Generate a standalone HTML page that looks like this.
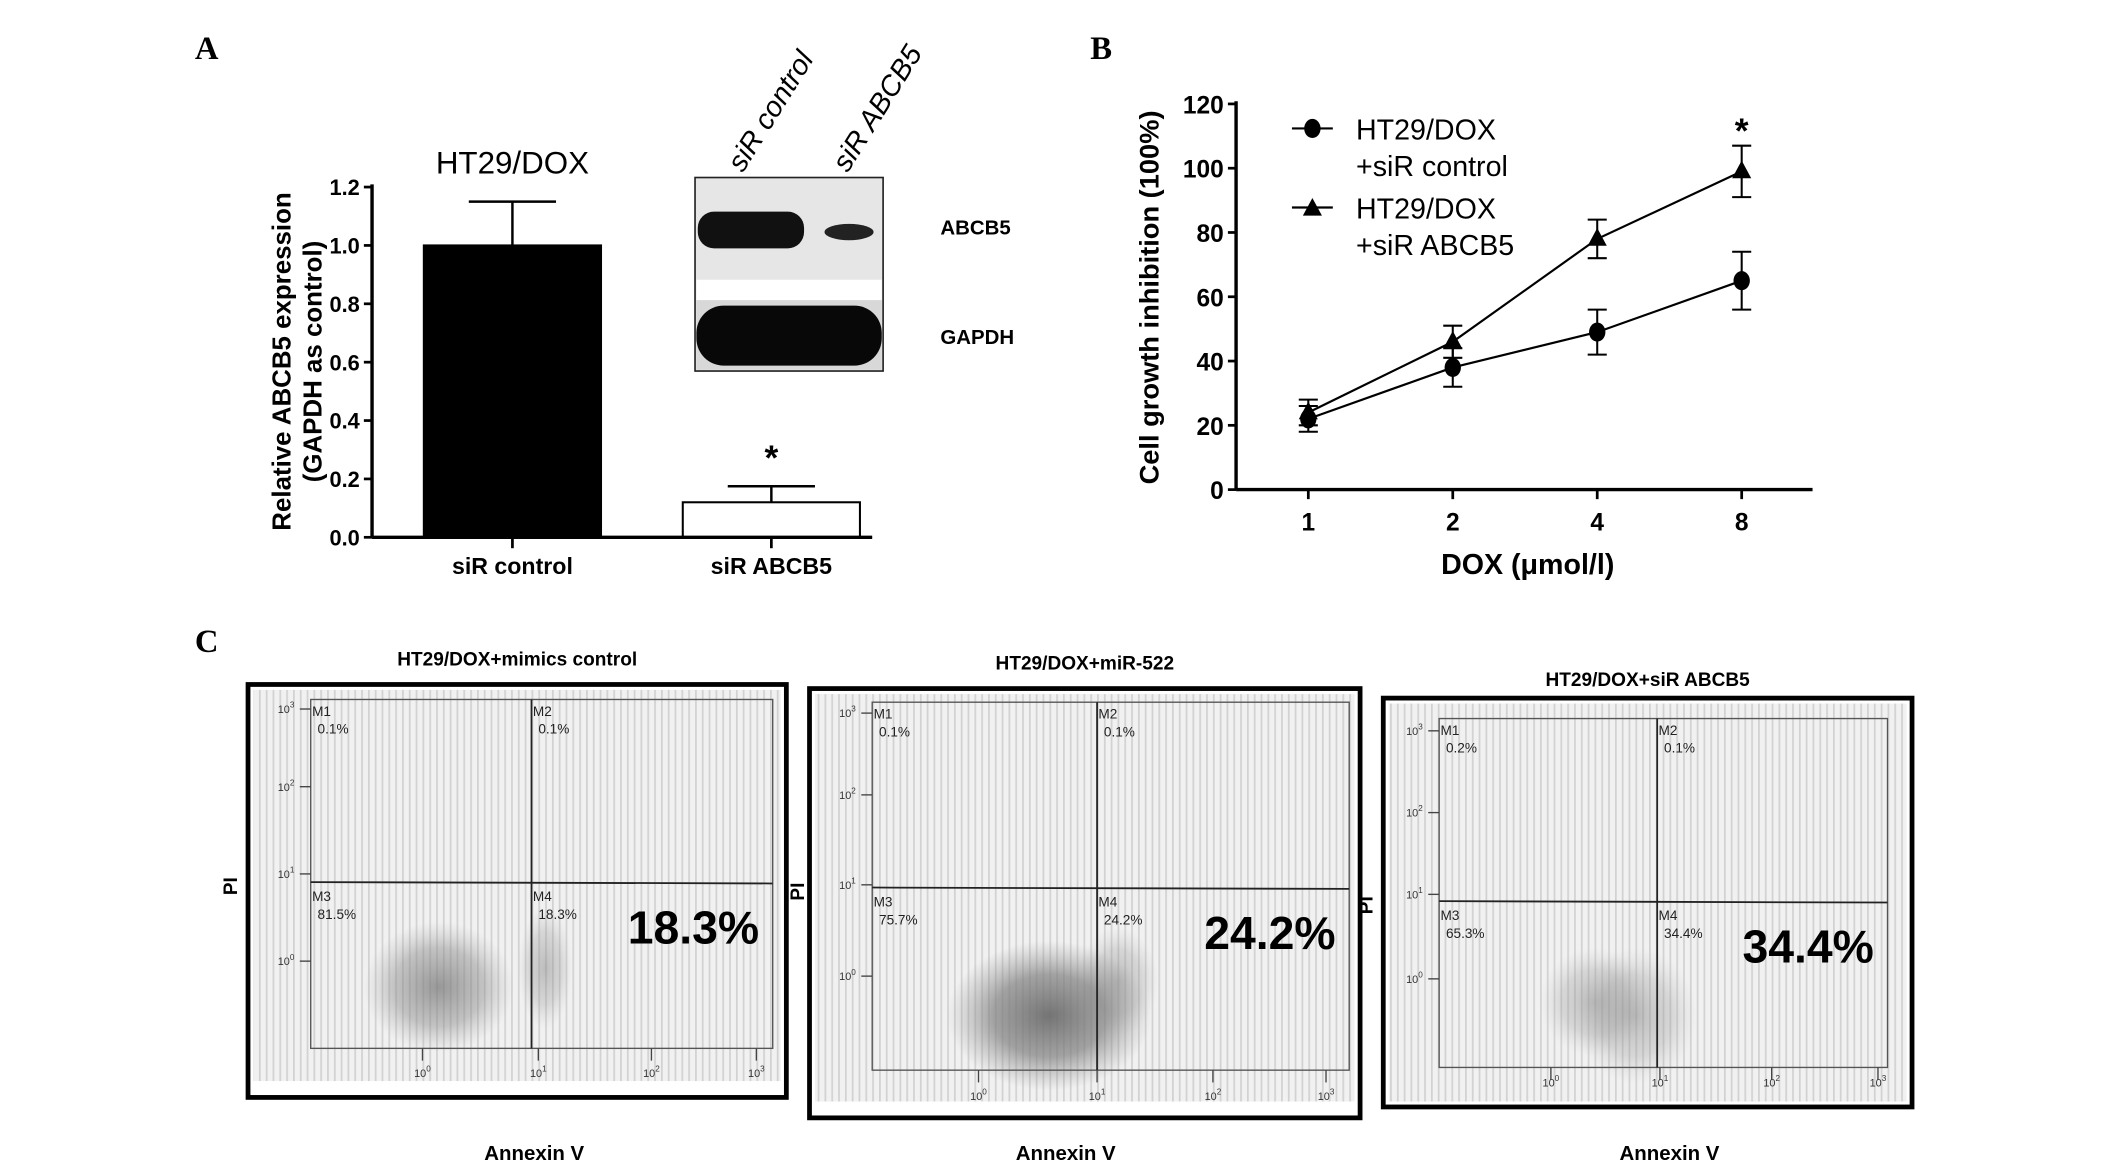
<!DOCTYPE html>
<html><head><meta charset="utf-8">
<style>
html,body{margin:0;padding:0;background:#fff;}
svg{display:block;}
text{font-family:"Liberation Sans",sans-serif;}
.serif{font-family:"Liberation Serif",serif;font-weight:bold;}
</style></head>
<body>
<svg id="fig" width="2126" height="1170" viewBox="0 0 1560 858" xmlns="http://www.w3.org/2000/svg">
<defs>
<pattern id="stripes" width="5" height="10" patternUnits="userSpaceOnUse">
<rect width="5" height="10" fill="#f1f1f1"/>
<rect x="0" width="1.3" height="10" fill="#d2d2d2"/>
</pattern>
<radialGradient id="cloudDense"><stop offset="0" stop-color="#6e6e6e" stop-opacity="0.95"/><stop offset="0.55" stop-color="#808080" stop-opacity="0.7"/><stop offset="1" stop-color="#999" stop-opacity="0"/></radialGradient>
<radialGradient id="cloudMed"><stop offset="0" stop-color="#7a7a7a" stop-opacity="0.75"/><stop offset="0.6" stop-color="#8a8a8a" stop-opacity="0.45"/><stop offset="1" stop-color="#aaa" stop-opacity="0"/></radialGradient>
<radialGradient id="cloudLight"><stop offset="0" stop-color="#888" stop-opacity="0.5"/><stop offset="0.6" stop-color="#999" stop-opacity="0.3"/><stop offset="1" stop-color="#bbb" stop-opacity="0"/></radialGradient>
</defs>
<text class="serif" x="143" y="43" font-size="24">A</text>
<text class="serif" x="800" y="43" font-size="24">B</text>
<text class="serif" x="143" y="478" font-size="24">C</text>
<g id="chartA"></g>
<g id="chartB"></g>
<g id="flow"></g>
</svg>
<script>
const NS="http://www.w3.org/2000/svg";
function mk(parent,tag,attrs,txt){const e=document.createElementNS(NS,tag);for(const k in attrs)e.setAttribute(k,attrs[k]);if(txt!==undefined)e.textContent=txt;parent.appendChild(e);return e;}

// ---------- Chart A data ----------
const barCategories=["siR control","siR ABCB5"];
const barValues=[1.0,0.12];
const barErrors=[0.15,0.055];
const barTicks=[0,0.2,0.4,0.6,0.8,1.0,1.2];

(function(){
const g=document.getElementById('chartA');
const x0=273,x1=640,y0=394,yTop=137,vmax=1.2;
const y=v=>y0-(v/vmax)*(y0-yTop);
const cx=i=>376+i*190;
const bw=130;
barCategories.forEach((c,i)=>{
  const bx=cx(i)-bw/2;
  const r=mk(g,'rect',{x:bx,y:y(barValues[i]),width:bw,height:y0-y(barValues[i]),fill:i===0?'#000':'#fff',stroke:'#000','stroke-width':1.5});
  
  
  const top=y(barValues[i]+barErrors[i]);
  const el=mk(g,'path',{d:`M${cx(i)},${y(barValues[i])}V${top}M${cx(i)-32},${top}H${cx(i)+32}`,stroke:'#000','stroke-width':1.8,fill:'none'});
  
  
  mk(g,'line',{x1:cx(i),x2:cx(i),y1:y0,y2:y0+8,stroke:'#000','stroke-width':2});
  const t=mk(g,'text',{x:cx(i),y:y0+27,'font-size':17,'font-weight':'bold','text-anchor':'middle'},c);
  
  
});
const st=mk(g,'text',{x:cx(1),y:y(barValues[1]+barErrors[1])-12,'font-size':26,'font-weight':'bold','text-anchor':'middle'},'*');


mk(g,'line',{x1:x0,x2:x0,y1:yTop-2,y2:y0,stroke:'#000','stroke-width':2.5});
mk(g,'line',{x1:x0,x2:x1,y1:y0,y2:y0,stroke:'#000','stroke-width':2.5});
barTicks.forEach(v=>{
  mk(g,'line',{x1:x0-6,x2:x0,y1:y(v),y2:y(v),stroke:'#000','stroke-width':2});
  const t=mk(g,'text',{x:x0-9,y:y(v)+6,'font-size':16,'font-weight':'bold','text-anchor':'end'},v.toFixed(1));
  
  
});
const yt=mk(g,'text',{x:0,y:0,'font-size':19,'font-weight':'bold','text-anchor':'middle',transform:'translate(213,265) rotate(-90)'},'Relative ABCB5 expression');


const yt2=mk(g,'text',{x:0,y:0,'font-size':19,'font-weight':'bold','text-anchor':'middle',transform:'translate(236,265) rotate(-90)'},'(GAPDH as control)');


const ht=mk(g,'text',{x:376,y:127,'font-size':23,'text-anchor':'middle'},'HT29/DOX');


// western blot
const wb=mk(g,'g',{});


mk(wb,'rect',{x:510,y:130,width:138,height:142,fill:'#e6e6e6',stroke:'#222','stroke-width':1.2});
mk(wb,'rect',{x:511,y:205,width:136,height:15,fill:'#fff'});
mk(wb,'rect',{x:511,y:220,width:136,height:51,fill:'#d8d8d8'});
mk(wb,'rect',{x:512,y:155,width:78,height:27,rx:12,fill:'#111'});
mk(wb,'ellipse',{cx:623,cy:170,rx:18,ry:6,fill:'#222'});
mk(wb,'rect',{x:511,y:224,width:136,height:44,rx:20,fill:'#080808'});
const l1=mk(g,'text',{x:690,y:172,'font-size':15,'font-weight':'bold'},'ABCB5');


const l2=mk(g,'text',{x:690,y:252,'font-size':15,'font-weight':'bold'},'GAPDH');


const r1=mk(g,'text',{x:0,y:0,'font-size':21,'font-style':'italic',transform:'translate(545,127) rotate(-58)'},'siR control');


const r2=mk(g,'text',{x:0,y:0,'font-size':21,'font-style':'italic',transform:'translate(622,127) rotate(-58)'},'siR ABCB5');


})();

// ---------- Chart B data ----------
const doseLabels=["1","2","4","8"];
const controlMeans=[22,38,49,65];
const controlErr=[4,6,7,9];
const abcb5Means=[24,46,78,99];
const abcb5Err=[4,5,6,8];
const growthTicks=[0,20,40,60,80,100,120];

(function(){
const g=document.getElementById('chartB');
const x0=907,x1=1330,y0=359,yTop=76;
const y=v=>y0-v/120*(y0-yTop);
const x=i=>960+i*106;
mk(g,'line',{x1:x0,x2:x0,y1:yTop-2,y2:y0,stroke:'#000','stroke-width':2.5});
mk(g,'line',{x1:x0,x2:x1,y1:y0,y2:y0,stroke:'#000','stroke-width':2.5});
growthTicks.forEach(v=>{
  mk(g,'line',{x1:x0-6,x2:x0,y1:y(v),y2:y(v),stroke:'#000','stroke-width':2});
  const t=mk(g,'text',{x:x0-9,y:y(v)+7,'font-size':18,'font-weight':'bold','text-anchor':'end'},String(v));
  
  
});
doseLabels.forEach((d,i)=>{
  mk(g,'line',{x1:x(i),x2:x(i),y1:y0,y2:y0+7,stroke:'#000','stroke-width':2});
  const t=mk(g,'text',{x:x(i),y:y0+30,'font-size':18,'font-weight':'bold','text-anchor':'middle'},d);
  
  
});
function series(means,errs,marker,name){
  const sg=mk(g,'g',{});
  
  
  mk(sg,'polyline',{points:means.map((m,i)=>x(i)+','+y(m)).join(' '),fill:'none',stroke:'#000','stroke-width':1.6});
  means.forEach((m,i)=>{
    const t=y(m+errs[i]),b=y(m-errs[i]);
    mk(sg,'path',{d:`M${x(i)},${t}V${b}M${x(i)-7},${t}H${x(i)+7}M${x(i)-7},${b}H${x(i)+7}`,stroke:'#000','stroke-width':1.5,fill:'none'});
    if(marker==='c') mk(sg,'ellipse',{cx:x(i),cy:y(m),rx:6,ry:7,fill:'#000'});
    else mk(sg,'path',{d:`M${x(i)},${y(m)-8}L${x(i)+7},${y(m)+5}L${x(i)-7},${y(m)+5}Z`,fill:'#000'});
  });
}
series(controlMeans,controlErr,'c','series-sir-control');
series(abcb5Means,abcb5Err,'t','series-sir-abcb5');
const st=mk(g,'text',{x:x(3),y:y(abcb5Means[3]+abcb5Err[3])-2,'font-size':26,'font-weight':'bold','text-anchor':'middle'},'*');


const lg=mk(g,'g',{});


mk(lg,'line',{x1:948,x2:978,y1:94,y2:94,stroke:'#000','stroke-width':1.6});
mk(lg,'ellipse',{cx:963,cy:94,rx:6,ry:7,fill:'#000'});
mk(lg,'text',{x:995,y:102,'font-size':21},'HT29/DOX');
mk(lg,'text',{x:995,y:129,'font-size':21},'+siR control');
mk(lg,'line',{x1:948,x2:978,y1:152,y2:152,stroke:'#000','stroke-width':1.6});
mk(lg,'path',{d:'M963,145L970,158L956,158Z',fill:'#000'});
mk(lg,'text',{x:995,y:160,'font-size':21},'HT29/DOX');
mk(lg,'text',{x:995,y:187,'font-size':21},'+siR ABCB5');
const yt=mk(g,'text',{x:0,y:0,'font-size':20,'font-weight':'bold','text-anchor':'middle',transform:'translate(850,218) rotate(-90)'},'Cell growth inhibition (100%)');


const xt=mk(g,'text',{x:1121,y:421,'font-size':21,'font-weight':'bold','text-anchor':'middle'},'DOX (μmol/l)');


})();

// ---------- Flow panels ----------
const flowTitles=["HT29/DOX+mimics control","HT29/DOX+miR-522","HT29/DOX+siR ABCB5"];
const flowBig=["18.3%","24.2%","34.4%"];
const flowQuad=[["0.1%","0.1%","81.5%","18.3%"],["0.1%","0.1%","75.7%","24.2%"],["0.2%","0.1%","65.3%","34.4%"]];
(function(){
const root=document.getElementById('flow');
const P=[
 {fx:182,fy:502,fw:395,fh:303,ix0:228,ix1:567,iy0:513,iy1:769,qx:390,qy:647,ty:488,yt:[520,577,641,705],xt:[310,395,478,555],xty:790,cl:{cx:322,cy:724,rx:55,ry:48,f:'cloudMed'},cl2:{cx:400,cy:710,rx:20,ry:45,f:'cloudLight'},pi:174,annex:392},
 {fx:594,fy:505,fw:404,fh:315,ix0:640,ix1:990,iy0:515,iy1:785,qx:805,qy:651,ty:491,yt:[523,583,649,716],xt:[718,805,890,973],xty:807,cl:{cx:770,cy:745,rx:75,ry:55,f:'cloudDense'},cl2:{cx:820,cy:720,rx:30,ry:40,f:'cloudLight'},pi:590,annex:782},
 {fx:1015,fy:512,fw:388,fh:300,ix0:1056,ix1:1385,iy0:527,iy1:783,qx:1216,qy:661,ty:503,yt:[536,596,656,718],xt:[1138,1218,1300,1378],xty:797,cl:{cx:1200,cy:745,rx:45,ry:50,f:'cloudLight'},cl2:{cx:1170,cy:735,rx:40,ry:40,f:'cloudLight'},pi:1007,annex:1225}
];
P.forEach((p,k)=>{
  const g=mk(root,'g',{});
  
  
  const tt=mk(g,'text',{x:p.fx+p.fw/2,y:p.ty,'font-size':14,'font-weight':'bold','text-anchor':'middle'},flowTitles[k]);
  
  
  mk(g,'rect',{x:p.fx+4,y:p.fy+4,width:p.fw-8,height:p.fh-8-(k===2?0:8),fill:'url(#stripes)'});
  mk(g,'rect',{x:p.fx,y:p.fy,width:p.fw,height:p.fh,fill:'none',stroke:'#000','stroke-width':3.5});
  mk(g,'ellipse',{cx:p.cl2.cx,cy:p.cl2.cy,rx:p.cl2.rx,ry:p.cl2.ry,fill:`url(#${p.cl2.f})`});
  mk(g,'ellipse',{cx:p.cl.cx,cy:p.cl.cy,rx:p.cl.rx,ry:p.cl.ry,fill:`url(#${p.cl.f})`});
  mk(g,'rect',{x:p.ix0,y:p.iy0,width:p.ix1-p.ix0,height:p.iy1-p.iy0,fill:'none',stroke:'#555','stroke-width':1});
  mk(g,'line',{x1:p.qx,x2:p.qx,y1:p.iy0,y2:p.iy1,stroke:'#222','stroke-width':1.3});
  mk(g,'line',{x1:p.ix0,x2:p.ix1,y1:p.qy,y2:p.qy+1,stroke:'#222','stroke-width':1.3});
  const ex=['3','2','1','0'];
  p.yt.forEach((yy,i)=>{
    mk(g,'line',{x1:p.ix0-8,x2:p.ix0,y1:yy,y2:yy,stroke:'#444','stroke-width':1});
    const t=mk(g,'text',{x:p.ix0-12,y:yy+3,'font-size':8,'text-anchor':'end',fill:'#333'},'10');
    mk(t,'tspan',{dy:-4,'font-size':6},ex[i]);
  });
  p.xt.forEach((xx,i)=>{
    mk(g,'line',{x1:xx,x2:xx,y1:p.iy1,y2:p.iy1+9,stroke:'#444','stroke-width':1});
    const t=mk(g,'text',{x:xx,y:p.xty,'font-size':8,'text-anchor':'middle',fill:'#333'},'10');
    mk(t,'tspan',{dy:-4,'font-size':6},String(i));
  });
  const q=flowQuad[k];
  const pos=[[p.ix0+1,p.iy0+12],[p.qx+1,p.iy0+12],[p.ix0+1,p.qy+14],[p.qx+1,p.qy+14]];
  pos.forEach((pp,i)=>{
    mk(g,'text',{x:pp[0],y:pp[1],'font-size':10,fill:'#222'},'M'+(i+1));
    const t=mk(g,'text',{x:pp[0]+4,y:pp[1]+13,'font-size':10,fill:'#222'},q[i]);
    
    
  });
  const b=mk(g,'text',{x:p.ix1-10,y:p.qy+45,'font-size':34,'font-weight':'bold','text-anchor':'end'},flowBig[k]);
  
  
  const pi=mk(g,'text',{x:0,y:0,'font-size':14,'font-weight':'bold','text-anchor':'middle',transform:`translate(${p.pi},${p.qy+3}) rotate(-90)`},'PI');
  
  
  const an=mk(g,'text',{x:p.annex,y:851,'font-size':15,'font-weight':'bold','text-anchor':'middle'},'Annexin V');
  
  
});
})();
</script>
</body></html>
